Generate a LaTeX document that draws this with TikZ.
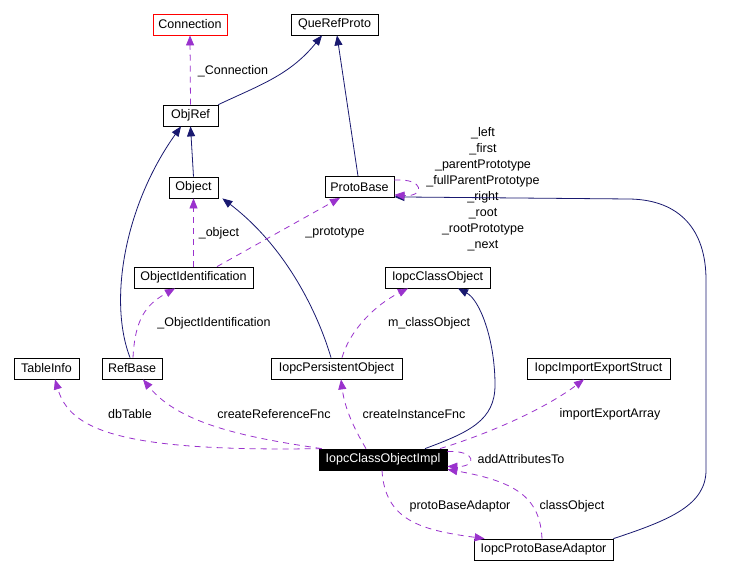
\documentclass[tikz,border=0pt]{standalone}
\usepackage{fontspec}
\setmainfont{Liberation Sans}
\usetikzlibrary{arrows.meta}
\definecolor{navy}{RGB}{25,25,112}
\definecolor{lila}{RGB}{154,50,205}
\begin{document}
\begin{tikzpicture}[x=1pt,y=-1pt,
  box/.style={draw, line width=0.8pt, inner sep=0pt, minimum height=21pt, font=\fontsize{12.5}{15}\selectfont},
  lbl/.style={inner sep=0pt, font=\fontsize{12.5}{16}\selectfont},
  inh/.style={draw=navy, line width=0.8pt, -{Triangle[length=10pt,width=8pt]}},
  dep/.style={draw=lila, line width=0.8pt, dash pattern=on 6pt off 5pt, -{Triangle[length=10pt,width=8pt]}}]
\useasboundingbox[fill=white] (0,0) rectangle (733,574);
% nodes
\node[box, draw=red, minimum width=74pt] (connection) at (190,24.5) {Connection};
\node[box, minimum width=87pt] (querefproto) at (334.5,24.5) {QueRefProto};
\node[box, minimum width=55pt] (objref) at (190.5,115.5) {ObjRef};
\node[box, minimum width=49pt] (object) at (193.5,187.5) {Object};
\node[box, minimum width=69pt] (protobase) at (359.5,187) {ProtoBase};
\node[box, minimum width=119pt] (objid) at (193.5,277.5) {ObjectIdentification};
\node[box, minimum width=105pt] (classobj) at (437.5,277.5) {IopcClassObject};
\node[box, minimum width=65pt] (tableinfo) at (46.5,368.5) {TableInfo};
\node[box, minimum width=60pt] (refbase) at (132,368.5) {RefBase};
\node[box, minimum width=131pt] (persistent) at (336.5,368.5) {IopcPersistentObject};
\node[box, minimum width=143pt] (importexport) at (598.5,368.5) {IopcImportExportStruct};
\node[box, fill=black, text=white, minimum width=128pt] (impl) at (383,459.5) {IopcClassObjectImpl};
\node[box, minimum width=139pt] (adaptor) at (543.5,549.5) {IopcProtoBaseAdaptor};
% labels
\node[lbl] (lconn) at (233,71) {\_Connection};
\node[lbl, align=center] (lproto) at (483,189.5) {\_left\\\_first\\\_parentPrototype\\\_fullParentPrototype\\\_right\\\_root\\\_rootPrototype\\\_next};
\node[lbl] (lobject) at (219,233) {\_object};
\node[lbl] (lprototype) at (335,233) {\_prototype};
\node[lbl] (lobjid) at (214,323) {\_ObjectIdentification};
\node[lbl] (lmclass) at (429,323) {m\_classObject};
\node[lbl] (ldb) at (130,414) {dbTable};
\node[lbl] (lcref) at (274,414) {createReferenceFnc};
\node[lbl] (lcinst) at (414,414) {createInstanceFnc};
\node[lbl] (liea) at (610,414) {importExportArray};
\node[lbl] (ladd) at (521,459) {addAttributesTo};
\node[lbl] (lpba) at (460,506) {protoBaseAdaptor};
\node[lbl] (lco) at (572,506) {classObject};
% inheritance (navy)
\draw[inh] (objref.north east) .. controls (260,85) and (290,75) .. ([xshift=-12.5pt]querefproto.south);
\draw[inh] ([xshift=-1.5pt]protobase.north) -- ([xshift=2.5pt]querefproto.south);
\draw[inh] (object.north) -- (objref.south);
\draw[inh] ([xshift=-2pt]refbase.north) .. controls (108,300) and (125,205) .. ([xshift=-9.5pt]objref.south);
\draw[inh] ([xshift=-5.5pt]persistent.north) .. controls (320,320) and (290,250) .. ([xshift=4pt]object.south east);
\draw[inh] (adaptor.north east) .. controls (670,520) and (706,505) .. (706,470) -- (706,280) .. controls (706,230) and (680,200) .. (630,199) -- ([yshift=1pt]protobase.south east);
\draw[inh] ([xshift=42pt]impl.north) .. controls (470,432) and (495,420) .. (495,385) .. controls (495,340) and (480,300) .. ([xshift=20.5pt]classobj.south);
% usage (purple dashed)
\draw[dep] (objref.north) -- (connection.south);
\draw[dep] (objid.north) -- (object.south);
\draw[dep] ([xshift=23.5pt]objid.north) -- ([xshift=-19.5pt]protobase.south);
\draw[dep] ([yshift=-4pt]protobase.north east) .. controls (425,178) and (425,197) .. ([yshift=3pt]protobase.south east);
\draw[dep] ([xshift=1pt]refbase.north) .. controls (135,320) and (145,305) .. ([xshift=-18.5pt]objid.south);
\draw[dep] ([xshift=5.5pt]persistent.north) .. controls (350,330) and (375,305) .. ([xshift=-29.5pt]classobj.south);
\draw[dep] ([xshift=3pt]impl.north west) .. controls (120,452) and (70,430) .. ([xshift=8.5pt]tableinfo.south);
\draw[dep] ([xshift=3pt]impl.north west) .. controls (250,438) and (180,425) .. ([xshift=11pt]refbase.south);
\draw[dep] ([xshift=-17pt]impl.north) .. controls (355,430) and (345,410) .. ([xshift=4.5pt]persistent.south);
\draw[dep] ([xshift=57pt]impl.north) .. controls (500,430) and (550,405) .. ([xshift=-14.5pt]importexport.south);
\draw[dep] ([yshift=-3pt]impl.north east) .. controls (477,450) and (477,467) .. ([yshift=4pt]impl.south east);
\draw[dep] ([xshift=-1pt]impl.south) .. controls (385,520) and (420,530) .. ([xshift=11pt]adaptor.north west);
\draw[dep] ([xshift=-1.5pt]adaptor.north) .. controls (540,500) and (520,482) .. ([yshift=1pt]impl.south east);
\end{tikzpicture}
\end{document}
